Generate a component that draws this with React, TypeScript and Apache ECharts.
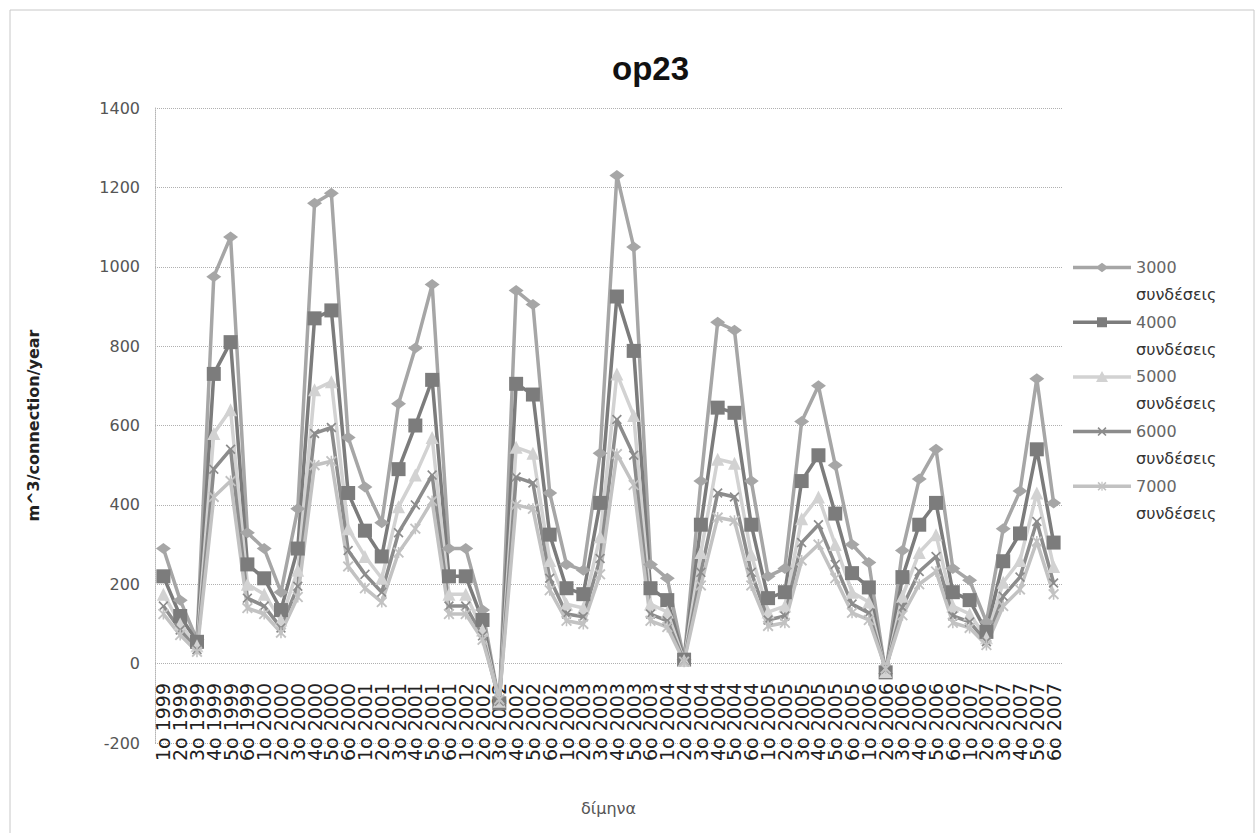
import React, { useEffect, useRef } from "react";
import * as echarts from "echarts";

const categories = [
  "1ο 1999", "2ο 1999", "3ο 1999", "4ο 1999", "5ο 1999", "6ο 1999",
  "1ο 2000", "2ο 2000", "3ο 2000", "4ο 2000", "5ο 2000", "6ο 2000",
  "1ο 2001", "2ο 2001", "3ο 2001", "4ο 2001", "5ο 2001", "6ο 2001",
  "1ο 2002", "2ο 2002", "3ο 2002", "4ο 2002", "5ο 2002", "6ο 2002",
  "1ο 2003", "2ο 2003", "3ο 2003", "4ο 2003", "5ο 2003", "6ο 2003",
  "1ο 2004", "2ο 2004", "3ο 2004", "4ο 2004", "5ο 2004", "6ο 2004",
  "1ο 2005", "2ο 2005", "3ο 2005", "4ο 2005", "5ο 2005", "6ο 2005",
  "1ο 2006", "2ο 2006", "3ο 2006", "4ο 2006", "5ο 2006", "6ο 2006",
  "1ο 2007", "2ο 2007", "3ο 2007", "4ο 2007", "5ο 2007", "6ο 2007",
];

const s3000 = [
  290, 160, 60, 975, 1075, 330,
  290, 180, 390, 1160, 1185, 570,
  445, 355, 655, 795, 955, 290,
  290, 135, -100, 940, 905, 430,
  250, 235, 530, 1230, 1050, 250,
  215, 10, 460, 860, 840, 460,
  220, 240, 610, 700, 500, 300,
  255, -25, 285, 465, 540, 240,
  210, 105, 340, 435, 718, 405,
];
const s4000 = [
  220, 120, 55, 730, 810, 250,
  215, 135, 290, 870, 890, 430,
  335, 270, 490, 600, 715, 220,
  220, 110, -100, 705, 678, 325,
  190, 175, 405, 925, 788, 190,
  160, 10, 350, 645, 632, 350,
  165, 180, 460, 525, 378, 228,
  192, -22, 218, 350, 405, 180,
  160, 80, 258, 328, 540, 305,
];
const s5000 = [
  175, 100, 45, 580, 640, 200,
  175, 110, 235, 690, 710, 340,
  270, 215, 395, 475, 570, 175,
  175, 85, -95, 545, 530, 260,
  150, 140, 320, 730, 625, 150,
  130, 8, 280, 515, 505, 275,
  130, 145, 365, 420, 300, 180,
  155, -20, 170, 280, 325, 145,
  125, 65, 205, 260, 430, 245,
];
const s6000 = [
  145, 85, 35, 490, 540, 165,
  145, 90, 195, 580, 595, 285,
  225, 180, 330, 400, 475, 145,
  145, 70, -95, 470, 455, 215,
  125, 118, 265, 615, 525, 125,
  108, 6, 230, 430, 420, 230,
  110, 120, 305, 350, 250, 150,
  128, -15, 142, 232, 270, 120,
  105, 55, 170, 218, 358, 203,
];
const s7000 = [
  125, 72, 30, 420, 460, 140,
  125, 78, 168, 500, 510, 245,
  190, 155, 280, 340, 410, 125,
  125, 60, -90, 400, 390, 185,
  108, 100, 225, 528, 450, 108,
  92, 5, 197, 368, 360, 197,
  95, 103, 260, 300, 215, 128,
  110, -12, 122, 200, 232, 103,
  90, 47, 145, 187, 308, 175,
];

const seriesNames = [
  "3000 συνδέσεις",
  "4000 συνδέσεις",
  "5000 συνδέσεις",
  "6000 συνδέσεις",
  "7000 συνδέσεις",
];
const seriesData = [s3000, s4000, s5000, s6000, s7000];

const titleText = "op23";
const yAxisName = "m^3/connection/year";
const xAxisName = "δίμηνα";

const colors = ["#a6a6a6", "#7c7c7c", "#d2d2d2", "#8c8c8c", "#c2c2c2"];
const xSym =
  "path://M0,1.2L1.2,0L5,3.8L8.8,0L10,1.2L6.2,5L10,8.8L8.8,10L5,6.2L1.2,10L0,8.8L3.8,5Z";
const starSym =
  "path://M0,1.2L1.2,0L5,3.8L8.8,0L10,1.2L6.2,5L10,8.8L8.8,10L5,6.2L1.2,10L0,8.8L3.8,5Z M4.3,0L5.7,0L5.7,10L4.3,10Z";
const symbols = ["diamond", "rect", "triangle", xSym, starSym];
const symbolSizes: any[] = [[15, 11], 14, 13, 10, 11];

// legend icons: 58 x 54 box, line + marker centred on the first text line (y = 13.5)
const LW = 58;
const LH = 54;
const bbox = `M0,0M${LW},${LH}`;
const lineRect = "M0,11.75L58,11.75L58,15.25L0,15.25Z";
const legendMarkers = [
  "M22.5,13.5L29,8.8L35.5,13.5L29,18.2Z",
  "M24,8.5L34,8.5L34,18.5L24,18.5Z",
  "M29,7.5L35,18.5L23,18.5Z",
  "M24.5,10.1L25.6,9L29,12.4L32.4,9L33.5,10.1L30.1,13.5L33.5,16.9L32.4,18L29,14.6L25.6,18L24.5,16.9L27.9,13.5Z",
  "M24.5,10.1L25.6,9L29,12.4L32.4,9L33.5,10.1L30.1,13.5L33.5,16.9L32.4,18L29,14.6L25.6,18L24.5,16.9L27.9,13.5Z M28.4,9L29.6,9L29.6,18L28.4,18Z",
];

const font = "'DejaVu Sans', 'Noto Sans', sans-serif";

export default function App() {
  const ref = useRef<HTMLDivElement>(null);
  useEffect(() => {
    const chart = echarts.init(ref.current!, null, { renderer: "svg" });
    chart.setOption({
      animation: false,
      backgroundColor: "#ffffff",
      textStyle: { fontFamily: font },
      title: {
        text: titleText,
        left: 607,
        top: 47,
        textStyle: {
          fontFamily: "'Liberation Sans', Arial, sans-serif",
          fontWeight: "bold",
          fontSize: 33,
          color: "#111",
        },
      },
      graphic: [
        {
          type: "rect",
          shape: { x: 10, y: 10, width: 1244, height: 840 },
          style: { fill: "none", stroke: "#c8c8c8", lineWidth: 1 },
          silent: true,
        },
      ],
      legend: {
        orient: "vertical",
        left: 1073,
        top: 254,
        padding: 0,
        itemWidth: LW,
        itemHeight: LH,
        itemGap: 0.7,
        data: seriesNames.map((name, k) => ({
          name,
          icon: "path://" + bbox + lineRect + legendMarkers[k],
        })),
        formatter: (name: string) => {
          const [n, w] = name.split(" ");
          return "{a|" + n + "}\n{b|" + w + "}";
        },
        textStyle: {
          fontFamily: font,
          fontSize: 16,
          color: "#444",
          rich: {
            a: { fontSize: 16, lineHeight: 27, color: "#666", fontFamily: font },
            b: { fontSize: 16, lineHeight: 27, color: "#333", fontFamily: font },
          },
        },
      },
      grid: { left: 155, right: 197, top: 108, bottom: 90, containLabel: false, outerBoundsMode: "none" },
      xAxis: {
        type: "category",
        data: categories,
        boundaryGap: true,
        name: xAxisName,
        nameLocation: "middle",
        nameGap: 57,
        nameTextStyle: { fontFamily: font, fontSize: 16, color: "#555" },
        axisLine: { show: false, onZero: false },
        axisTick: { show: false },
        axisLabel: {
          interval: 0,
          rotate: 90,
          fontSize: 19,
          margin: -60,
          color: "#222",
          fontFamily: font,
        },
        splitLine: { show: false },
      },
      yAxis: {
        type: "value",
        min: -200,
        max: 1400,
        interval: 200,
        name: yAxisName,
        nameLocation: "middle",
        nameGap: 114,
        nameRotate: 90,
        nameTextStyle: {
          fontFamily: font,
          fontSize: 16,
          fontWeight: "bold",
          color: "#222",
        },
        axisLine: { show: true, lineStyle: { color: "#b5b5b5", type: "dotted" } },
        axisTick: { show: false },
        axisLabel: {
          fontSize: 16,
          color: "#555",
          margin: 15,
          fontFamily: font,
          formatter: (v: number) => String(v),
        },
        splitLine: { show: true, lineStyle: { color: "#b0b0b0", type: "dotted", width: 1 } },
      },
      series: seriesNames.map((name, k) => ({
        name,
        type: "line",
        data: seriesData[k],
        symbol: symbols[k],
        symbolSize: symbolSizes[k],
        showAllSymbol: true,
        color: colors[k],
        lineStyle: { width: 3.5, color: colors[k] },
        itemStyle: { color: colors[k] },
        emphasis: { disabled: true },
      })),
    });
    return () => chart.dispose();
  }, []);
  return (
    <div
      ref={ref}
      style={{ position: "absolute", left: 0, top: 0, width: 1259, height: 833, background: "#fff" }}
    />
  );
}
